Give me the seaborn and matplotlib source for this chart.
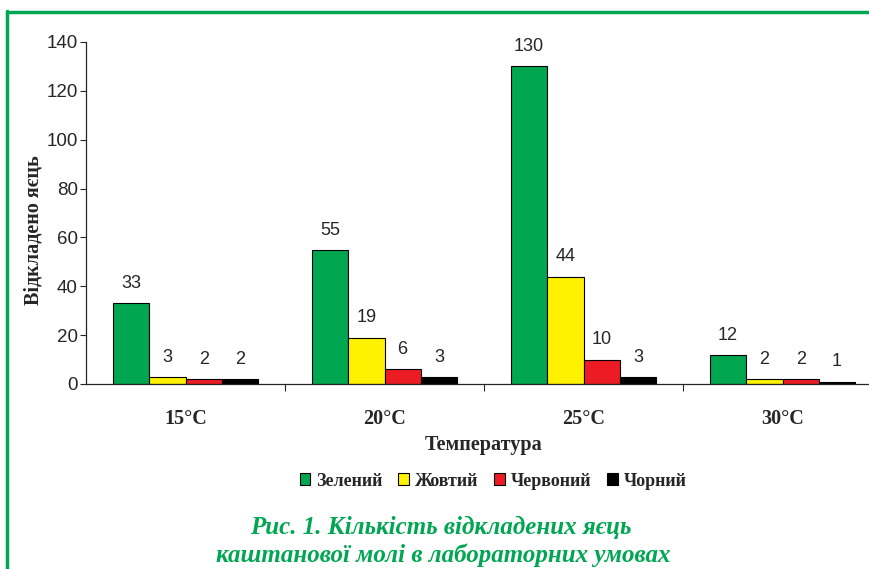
import pandas as pd
import numpy as np
import seaborn as sns
import matplotlib.pyplot as plt
from matplotlib.lines import Line2D

## Data
temps = ["15°C", "20°C", "25°C", "30°C"]
colours = ["Зелений", "Жовтий", "Червоний", "Чорний"]
green = [33, 55, 130, 12]
yellow = [3, 19, 44, 2]
red = [2, 6, 10, 2]
black = [2, 3, 3, 1]

palette = ["#00A650", "#FFF200", "#ED1C24", "#000000"]
frame_green = "#00A651"

rows = []
for name, vals in zip(colours, [green, yellow, red, black]):
    for t, v in zip(temps, vals):
        rows.append({"Температура": t, "Колір": name, "Яєць": v})
eggs = pd.DataFrame(rows)

sns.set_style("ticks")
plt.rcParams["font.family"] = ["Liberation Sans", "DejaVu Sans"]

fig = plt.figure(figsize=(8.69, 5.69), dpi=100)
ax = fig.add_axes([86 / 869, 185 / 569, 796 / 869, 342 / 569])

sns.barplot(data=eggs, x="Температура", y="Яєць", hue="Колір",
            order=temps, hue_order=colours, palette=palette,
            width=0.73, edgecolor="black", linewidth=0.8,
            saturation=1, ax=ax, legend=True)

#value labels over every bar
for cont in ax.containers:
    ax.bar_label(cont, fmt="%d", padding=8, fontsize=13)

ax.set_ylim(0, 140)
ax.set_xlim(-0.5, 3.5)
ax.set_yticks(np.arange(0, 141, 20))
ax.tick_params(axis="y", labelsize=13.5, length=4, width=0.8, pad=2)
#category names without ticks, small ticks between groups
ax.tick_params(axis="x", which="major", length=0, pad=18)
ax.set_xticks([0.5, 1.5, 2.5], minor=True)
ax.tick_params(axis="x", which="minor", length=5, width=0.8)
for lab in ax.get_xticklabels():
    lab.set_fontfamily("Liberation Serif")
    lab.set_fontweight("bold")
    lab.set_fontsize(14.5)

for s in ["top", "right"]:
    ax.spines[s].set_visible(False)
for s in ["left", "bottom"]:
    ax.spines[s].set_linewidth(0.9)

ax.set_xlabel("Температура", fontfamily="Liberation Serif", fontweight="bold",
              fontsize=14.5, labelpad=4)
ax.set_ylabel("Відкладено яєць", fontfamily="Liberation Serif", fontweight="bold",
              fontsize=14.5)
ax.yaxis.set_label_coords(-0.054, 0.45)

handles, labels = ax.get_legend_handles_labels()
ax.get_legend().remove()
fig.legend(handles, labels, loc="center", bbox_to_anchor=(493 / 869, 1 - 481 / 569),
           ncol=4, frameon=False, handlelength=0.6, handleheight=0.6,
           handletextpad=0.3, columnspacing=0.9,
           prop={"family": "Liberation Serif", "weight": "bold", "size": 13})

#caption
fig.text(441 / 869, 1 - 527 / 569, "Рис. 1. Кількість відкладених яєць",
         ha="center", va="center", color=frame_green, fontfamily="Liberation Serif",
         fontweight="bold", fontstyle="italic", fontsize=18)
fig.text(443 / 869, 1 - 555 / 569, "каштанової молі в лабораторних умовах",
         ha="center", va="center", color=frame_green, fontfamily="Liberation Serif",
         fontweight="bold", fontstyle="italic", fontsize=18)

#green page frame (left and top)
fig.add_artist(Line2D([7.5 / 869, 7.5 / 869], [0, 1 - 11 / 569],
                      transform=fig.transFigure, color=frame_green, lw=2.5))
fig.add_artist(Line2D([6.5 / 869, 1], [1 - 11.5 / 569, 1 - 11.5 / 569],
                      transform=fig.transFigure, color=frame_green, lw=2.5))

fig.savefig("out.png", dpi=100)
